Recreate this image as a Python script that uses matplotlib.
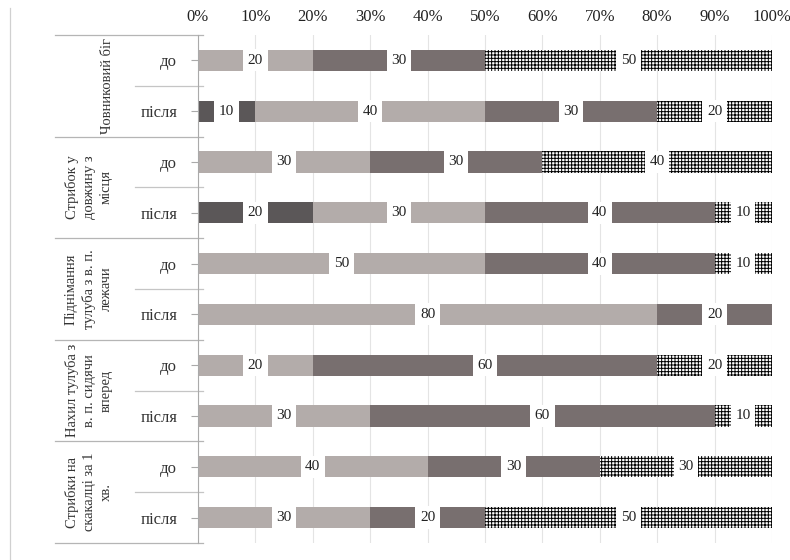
import numpy as np
import matplotlib
matplotlib.use('Agg')
from matplotlib import pyplot as plt
from matplotlib.lines import Line2D
from matplotlib.ticker import FuncFormatter

plt.rcParams['font.family'] = ['Liberation Serif', 'DejaVu Serif']
plt.rcParams['hatch.linewidth'] = 0.7

# test groups and before/after rows
groups = ['Човниковий біг',
          'Стрибок у\nдовжину з\nмісця',
          'Піднімання\nтулуба з в. п.\nлежачи',
          'Нахил тулуба з\nв. п. сидячи\nвперед',
          'Стрибки на\nскакалці за 1\nхв.']
rows = ['до', 'після'] * 5

# percentages per level (dark, light, medium, hatched)
level_low = [0, 10, 0, 20, 0, 0, 0, 0, 0, 0]
level_mid = [20, 40, 30, 30, 50, 80, 20, 30, 40, 30]
level_suff = [30, 30, 30, 40, 40, 20, 60, 60, 30, 20]
level_high = [50, 20, 40, 10, 10, 0, 20, 10, 30, 50]

fig = plt.figure(figsize=(7.9, 5.6), dpi=100)
ax = fig.add_axes([0.2506, 0.0304, 0.7265, 0.9071])

y = np.arange(len(rows))
series = [level_low, level_mid, level_suff, level_high]
styles = [dict(color='#5b5758'),
          dict(color='#b3acaa'),
          dict(color='#786f6f'),
          dict(facecolor='white', edgecolor='black', hatch='+++++', linewidth=0)]

left = np.zeros(len(rows))
for vals, st in zip(series, styles):
    vals = np.array(vals, dtype=float) / 100
    ax.barh(y, vals, left=left, height=0.42, **st)
    for yi, (l, v) in enumerate(zip(left, vals)):
        if v > 0:
            ax.text(l + v / 2, yi, f'{int(round(v * 100))}', ha='center', va='center',
                    fontsize=11, color='#222222',
                    bbox=dict(boxstyle='square,pad=0.3', facecolor='white', edgecolor='none'))
    left += vals

ax.set_xlim(0, 1)
ax.set_ylim(len(rows) - 0.5, -0.5)
ax.set_xticks(np.arange(0, 1.01, 0.1))
ax.xaxis.set_major_formatter(FuncFormatter(lambda v, p: f'{int(round(v * 100))}%'))
ax.xaxis.tick_top()
ax.tick_params(axis='x', length=0, pad=7, labelsize=12, labelcolor='#222222')
ax.set_yticks(y)
ax.set_yticklabels(rows)
ax.tick_params(axis='y', length=5, color='#aaaaaa', pad=10, labelsize=12, labelcolor='#333333')
ax.grid(axis='x', color='#e4e4e4', linewidth=0.8)
ax.set_axisbelow(True)
for s in ['top', 'right', 'bottom']:
    ax.spines[s].set_visible(False)
ax.spines['left'].set_color('#aaaaaa')

# separators in the label area
trans = ax.get_yaxis_transform()
x_grp = (55 - 198) / 574
x_row = (135 - 198) / 574
x_end = (203 - 198) / 574
for b in np.arange(-0.5, len(rows), 2):
    ax.plot([x_grp, x_end], [b, b], transform=trans, color='#b5b5b5', lw=0.9, clip_on=False)
for b in np.arange(0.5, len(rows), 2):
    ax.plot([x_row, x_end], [b, b], transform=trans, color='#c5c5c5', lw=0.9, clip_on=False)

# group labels
for i, g in enumerate(groups):
    xg = (108 - 198) / 574 if '\n' not in g else (89 - 198) / 574
    ax.text(xg, 2 * i + 0.5, g, transform=trans, rotation=90, ha='center', va='center',
            multialignment='center', fontsize=10.5, color='#333333', linespacing=1.4)

fig.add_artist(Line2D([10 / 790, 10 / 790], [0, 1 - 8 / 560], color='#d0d0d0', lw=0.9))

fig.savefig('out.png', dpi=100, facecolor='white')
